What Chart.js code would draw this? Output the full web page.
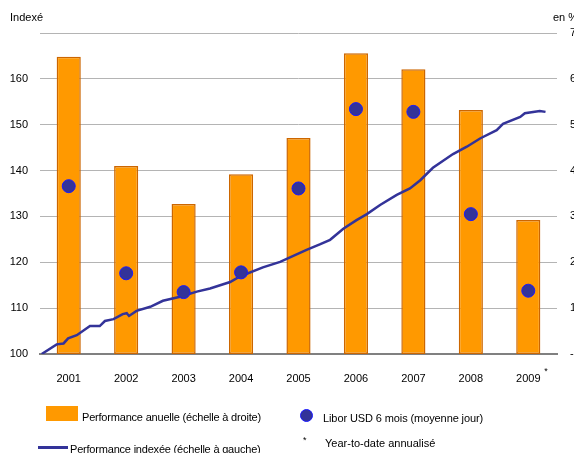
<!DOCTYPE html>
<html>
<head>
<meta charset="utf-8">
<script src="https://cdn.jsdelivr.net/npm/chart.js@4"></script>
<style>
  html, body { margin: 0; padding: 0; background: #fff; }
  #wrap { position: relative; width: 574px; height: 453px; overflow: hidden; font-family: "Liberation Sans", Arial, sans-serif; font-size: 11px; color: #000; }
  #wrap canvas { position: absolute; left: 0; top: 0; }
  .txt { position: absolute; white-space: nowrap; line-height: 12px; }
  .sw { position: absolute; }
</style>
</head>
<body>
<div id="wrap">
  <canvas id="c" width="600" height="453"></canvas>
  <div class="txt" style="left:10px; top:11px;">Indexé</div>
  <div class="txt" style="left:553px; top:11px;">en %</div>

  <div class="sw" style="left:46px; top:406px; width:32px; height:15px; background:#ff9900;"></div>
  <div class="txt" style="left:82px; top:411px; letter-spacing:-0.2px;">Performance anuelle (échelle à droite)</div>
  <div class="sw" style="left:300px; top:409px; width:11px; height:11px; border-radius:50%; background:#333399; border:1px solid #1a1aff;"></div>
  <div class="txt" style="left:323px; top:412px; letter-spacing:-0.1px;">Libor USD 6 mois (moyenne jour)</div>
  <div class="sw" style="left:38px; top:446px; width:30px; height:3px; background:#333399;"></div>
  <div class="txt" style="left:70px; top:443px; letter-spacing:-0.2px;">Performance indexée (échelle à gauche)</div>
  <div class="txt" style="left:303px; top:434px; font-size:9px;">*</div>
  <div class="txt" style="left:325px; top:437px;">Year-to-date annualisé</div>
</div>
<script>
// ── data ──
const years = ['2001', '2002', '2003', '2004', '2005', '2006', '2007', '2008', '2009'];
const perfAnnuelle = [6.48, 4.10, 3.27, 3.92, 4.71, 6.56, 6.21, 5.32, 2.92];
const libor6m = [3.66, 1.76, 1.35, 1.78, 3.61, 5.34, 5.28, 3.05, 1.38];

// indexed performance, time in fractional years
const indexT = [2001.03, 2001.29, 2001.41, 2001.49, 2001.64, 2001.87, 2002.04, 2002.13, 2002.28, 2002.44,
  2002.51, 2002.55, 2002.68, 2002.92, 2003.14, 2003.44, 2003.73, 2003.96, 2004.31, 2004.48,
  2004.88, 2005.18, 2005.64, 2005.87, 2006.05, 2006.28, 2006.51, 2006.69, 2006.92, 2007.21,
  2007.44, 2007.62, 2007.84, 2008.19, 2008.43, 2008.66, 2008.95, 2009.06, 2009.36, 2009.44,
  2009.70, 2009.80];
const indexV = [100.0, 102.1, 102.3, 103.4, 104.1, 106.1, 106.1, 107.2, 107.6, 108.7,
  108.9, 108.3, 109.4, 110.3, 111.6, 112.5, 113.6, 114.3, 115.7, 116.9,
  118.9, 120.1, 122.7, 123.9, 124.9, 127.3, 129.2, 130.5, 132.5, 134.7,
  136.1, 137.9, 140.6, 143.6, 145.2, 147.0, 148.8, 150.2, 151.7, 152.5,
  153.0, 152.8];

const FONT = { family: '"Liberation Sans", Arial, sans-serif', size: 11 };
const GRID = '#b4b4b4';

// small raised asterisk after the 2009 label
const starPlugin = {
    id: 'star',
    afterDraw(chart) {
        const x = chart.scales.x;
        const ctx = chart.ctx;
        const px = x.getPixelForValue(years.length - 1);
        ctx.save();
        ctx.font = '9px "Liberation Sans", Arial, sans-serif';
        ctx.fillStyle = '#000';
        ctx.textBaseline = 'middle';
        ctx.fillText('*', px + 16, x.top + 18);
        ctx.restore();
    }
};

new Chart(document.getElementById('c'), {
    data: {
        labels: years,
        datasets: [
            {
                type: 'bar',
                data: perfAnnuelle,
                yAxisID: 'y1',
                backgroundColor: '#ff9900',
                borderColor: '#cc6600',
                borderWidth: 1.5,
                borderSkipped: false,
                barPercentage: 0.42,
                categoryPercentage: 1,
                grouped: false,
                order: 2
            },
            {
                type: 'line',
                data: indexT.map((t, i) => ({ x: t, y: indexV[i] })),
                xAxisID: 'x2',
                yAxisID: 'y',
                borderColor: '#333399',
                borderWidth: 2.5,
                pointRadius: 0,
                tension: 0,
                order: 1
            },
            {
                type: 'line',
                data: libor6m,
                yAxisID: 'y1',
                showLine: false,
                pointRadius: 6.5,
                pointBackgroundColor: '#333399',
                pointBorderColor: '#1a1aff',
                pointBorderWidth: 1,
                order: 0
            }
        ]
    },
    options: {
        responsive: false,
        animation: false,
        layout: { padding: { top: 33 } },
        plugins: { legend: { display: false }, tooltip: { enabled: false } },
        scales: {
            x: {
                type: 'category',
                offset: true,
                grid: { display: false },
                border: { display: true, color: '#808080', width: 2 },
                ticks: { color: '#000', font: FONT, padding: 10 },
                afterFit(s) { s.height = 99; }
            },
            x2: {
                type: 'linear',
                display: false,
                min: 2001,
                max: 2010
            },
            y: {
                position: 'left',
                min: 100,
                max: 170,
                ticks: {
                    stepSize: 10,
                    color: '#000',
                    font: FONT,
                    padding: 12,
                    callback: v => v === 170 ? '' : v
                },
                grid: { color: GRID, drawTicks: false },
                border: { display: false },
                afterFit(s) { s.width = 40; }
            },
            y1: {
                position: 'right',
                min: 0,
                max: 7,
                ticks: {
                    stepSize: 1,
                    color: '#000',
                    font: FONT,
                    padding: 13,
                    callback: v => v === 0 ? '-' : v
                },
                grid: { display: false, drawTicks: false },
                border: { display: false },
                afterFit(s) { s.width = 43; }
            }
        }
    },
    plugins: [starPlugin]
});
</script>
</body>
</html>
